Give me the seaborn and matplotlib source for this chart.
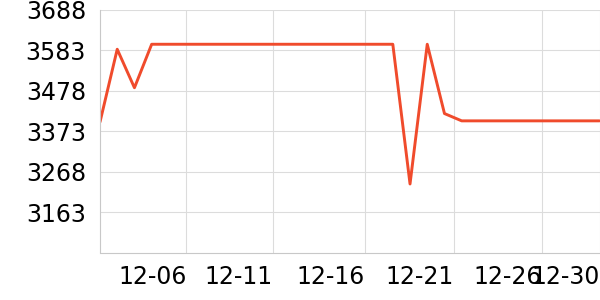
import matplotlib
matplotlib.use("Agg")
import matplotlib.pyplot as plt
import seaborn as sns
import pandas as pd

days = list(range(1, 31))
values = [3397, 3586, 3486, 3599, 3599, 3599, 3599, 3599, 3599, 3599,
          3599, 3599, 3599, 3599, 3599, 3599, 3599, 3599, 3236, 3599,
          3419, 3400, 3400, 3400, 3400, 3400, 3400, 3400, 3400, 3400]
tick_labels = ["12-06", "12-11", "12-16", "12-21", "12-26", "12-30"]
y_ticks = [3163, 3268, 3373, 3478, 3583, 3688]

df = pd.DataFrame({"idx": [d - 1 for d in days], "value": values})

sns.set_style("white")
plt.rcParams['font.family'] = ['DejaVu Sans']

fig = plt.figure(figsize=(6, 3), dpi=100)
ax = fig.add_axes([100/600, (300-252.5)/300, 500/600, (252.5-10)/300])

sns.lineplot(data=df, x="idx", y="value", ax=ax, color="#f04b2c", linewidth=2.1)

ax.set_xlim(0, 29.03)
ax.set_ylim(3058, 3688)
ax.set_yticks(y_ticks)
ax.set_yticklabels([str(v) for v in y_ticks])
tick_pos = [5.02, 10.02, 15.37, 20.54, 25.66, 29.03]
ax.set_xticks(tick_pos)
ax.set_xticklabels(tick_labels, ha="right")
ax.set_xlabel("")
ax.set_ylabel("")

grid_col = "#dcdcdc"
ax.grid(True, color=grid_col, linewidth=0.8)
ax.set_axisbelow(True)
for s in ["top", "right"]:
    ax.spines[s].set_visible(False)
for s in ["left", "bottom"]:
    ax.spines[s].set_color("#c8c8c8")
    ax.spines[s].set_linewidth(0.8)
ax.tick_params(axis="both", labelsize=17, color="#c8c8c8", length=3, width=0.8, labelcolor="black")
ax.tick_params(axis="x", pad=6)
ax.tick_params(axis="y", pad=7)

fig.savefig("out.png", dpi=100)
